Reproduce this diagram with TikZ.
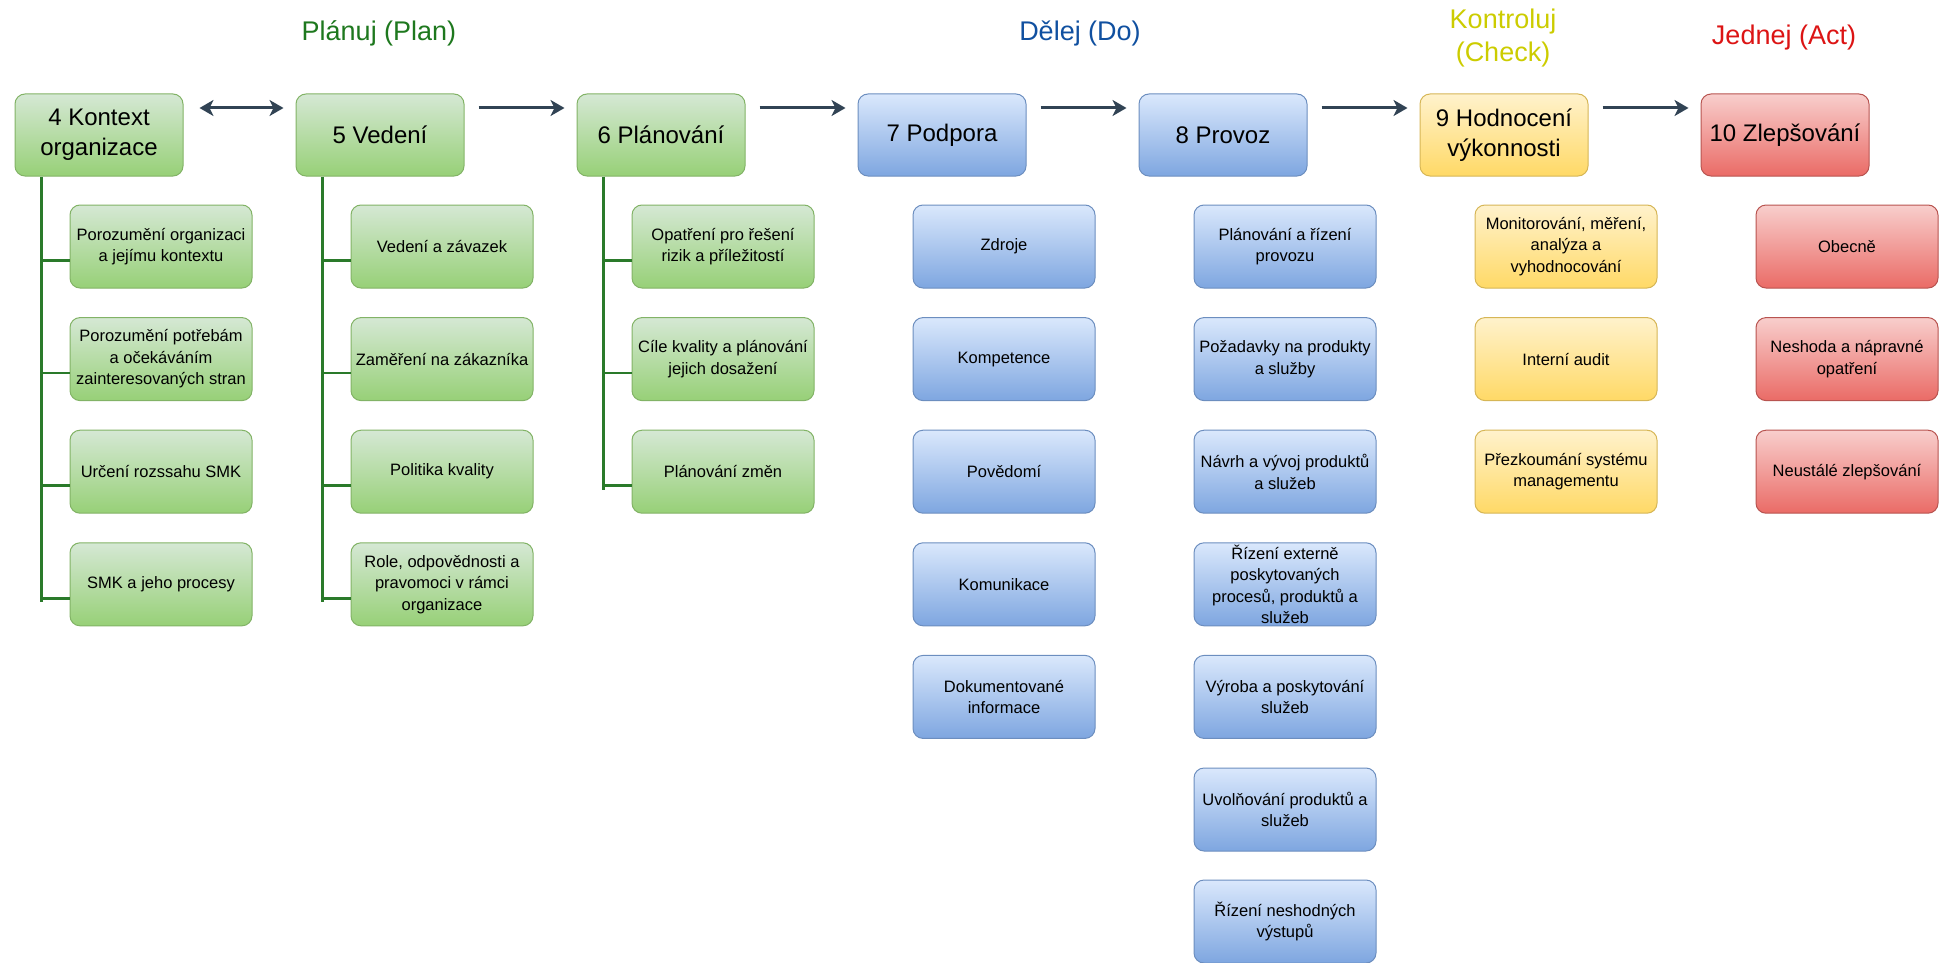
\documentclass[tikz,border=0pt]{standalone}
\usepackage{fontspec}
\setmainfont{Liberation Sans}
\usetikzlibrary{arrows.meta,calc}
\definecolor{gtop}{HTML}{D5E8D4}\definecolor{gbot}{HTML}{97D077}\definecolor{gdraw}{HTML}{82B366}
\definecolor{btop}{HTML}{DAE8FC}\definecolor{bbot}{HTML}{7EA6E0}\definecolor{bdraw}{HTML}{6C8EBF}
\definecolor{ytop}{HTML}{FFF2CC}\definecolor{ybot}{HTML}{FFD966}\definecolor{ydraw}{HTML}{D6B656}
\definecolor{rtop}{HTML}{F8CECC}\definecolor{rbot}{HTML}{EA6B66}\definecolor{rdraw}{HTML}{B85450}
\definecolor{arrc}{HTML}{314354}
\definecolor{treec}{HTML}{2A7A2A}
\definecolor{tplan}{RGB}{30,120,30}
\definecolor{tdo}{RGB}{16,80,160}
\definecolor{tcheck}{RGB}{204,204,0}
\definecolor{tact}{RGB}{220,20,20}
\tikzset{
  mainbox/.style={rounded corners=10pt, minimum width=168pt, minimum height=82pt, align=center, inner sep=2pt,
    font=\fontsize{24}{30}\selectfont, line width=1pt},
  subbox/.style={rounded corners=10pt, minimum width=182pt, minimum height=83pt, align=center, inner sep=1pt,
    font=\fontsize{16.5}{21.5}\selectfont, line width=1pt},
  green/.style={draw=gdraw, top color=gtop, bottom color=gbot},
  blue/.style={draw=bdraw, top color=btop, bottom color=bbot},
  yellow/.style={draw=ydraw, top color=ytop, bottom color=ybot},
  red/.style={draw=rdraw, top color=rtop, bottom color=rbot},
  arr/.style={draw=arrc, line width=3pt, -{Stealth[length=14pt,width=16pt,inset=4pt]}},
  darr/.style={draw=arrc, line width=3pt, {Stealth[length=14pt,width=16pt,inset=4pt]}-{Stealth[length=14pt,width=16pt,inset=4pt]}},
  tree/.style={draw=treec, line width=2.5pt},
  title/.style={align=center, font=\fontsize{27}{33}\selectfont}
}
\begin{document}
\begin{tikzpicture}[x=1pt,y=-1pt]
\useasboundingbox (0,0) rectangle (1940,963);
% titles
\node[title, text=tplan] (tp) at (379,33) {Plánuj (Plan)};
\node[title, text=tdo] (td) at (1080,33) {Dělej (Do)};
\node[title, text=tcheck] (tc) at (1503,38) {Kontroluj\\(Check)};
\node[title, text=tact] (ta) at (1784,38) {Jednej (Act)};
% main boxes
\node[mainbox, green] (m4) at (99,135) {4 Kontext\\organizace};
\node[mainbox, green] (m5) at (380,135) {5 Vedení};
\node[mainbox, green] (m6) at (661,135) {6 Plánování};
\node[mainbox, blue] (m7) at (942,135) {7 Podpora};
\node[mainbox, blue] (m8) at (1223,135) {8 Provoz};
\node[mainbox, yellow] (m9) at (1504,135) {9 Hodnocení\\výkonnosti};
\node[mainbox, red] (m10) at (1785,135) {10 Zlepšování};
% arrows
\draw[darr] ([xshift=16pt,yshift=27pt]m4.east) -- ([xshift=-12pt,yshift=27pt]m5.west);
\draw[arr] ([xshift=14pt,yshift=27pt]m5.east) -- ([xshift=-12pt,yshift=27pt]m6.west);
\draw[arr] ([xshift=14pt,yshift=27pt]m6.east) -- ([xshift=-12pt,yshift=27pt]m7.west);
\draw[arr] ([xshift=14pt,yshift=27pt]m7.east) -- ([xshift=-12pt,yshift=27pt]m8.west);
\draw[arr] ([xshift=14pt,yshift=27pt]m8.east) -- ([xshift=-12pt,yshift=27pt]m9.west);
\draw[arr] ([xshift=14pt,yshift=27pt]m9.east) -- ([xshift=-12pt,yshift=27pt]m10.west);
% column 4
\node[subbox, green] (s4a) at (161,246.5) {Porozumění organizaci\\a jejímu kontextu};
\node[subbox, green] (s4b) at (161,359.1) {Porozumění potřebám\\a očekáváním\\zainteresovaných stran};
\node[subbox, green] (s4c) at (161,471.7) {Určení rozssahu SMK};
\node[subbox, green] (s4d) at (161,584.3) {SMK a jeho procesy};
% column 5
\node[subbox, green] (s5a) at (442,246.5) {Vedení a závazek};
\node[subbox, green] (s5b) at (442,359.1) {Zaměření na zákazníka};
\node[subbox, green] (s5c) at (442,471.7) {Politika kvality};
\node[subbox, green] (s5d) at (442,584.3) {Role, odpovědnosti a\\pravomoci v rámci\\organizace};
% column 6
\node[subbox, green] (s6a) at (723,246.5) {Opatření pro řešení\\rizik a příležitostí};
\node[subbox, green] (s6b) at (723,359.1) {Cíle kvality a plánování\\jejich dosažení};
\node[subbox, green] (s6c) at (723,471.7) {Plánování změn};
% column 7
\node[subbox, blue] (s7a) at (1004,246.5) {Zdroje};
\node[subbox, blue] (s7b) at (1004,359.1) {Kompetence};
\node[subbox, blue] (s7c) at (1004,471.7) {Povědomí};
\node[subbox, blue] (s7d) at (1004,584.3) {Komunikace};
\node[subbox, blue] (s7e) at (1004,696.9) {Dokumentované\\informace};
% column 8
\node[subbox, blue] (s8a) at (1285,246.5) {Plánování a řízení\\provozu};
\node[subbox, blue] (s8b) at (1285,359.1) {Požadavky na produkty\\a služby};
\node[subbox, blue] (s8c) at (1285,471.7) {Návrh a vývoj produktů\\a služeb};
\node[subbox, blue] (s8d) at (1285,584.3) {Řízení externě\\poskytovaných\\procesů, produktů a\\služeb};
\node[subbox, blue] (s8e) at (1285,696.9) {Výroba a poskytování\\služeb};
\node[subbox, blue] (s8f) at (1285,809.5) {Uvolňování produktů a\\služeb};
\node[subbox, blue] (s8g) at (1285,921.5) {Řízení neshodných\\výstupů};
% column 9
\node[subbox, yellow] (s9a) at (1566,246.5) {Monitorování, měření,\\analýza a\\vyhodnocování};
\node[subbox, yellow] (s9b) at (1566,359.1) {Interní audit};
\node[subbox, yellow] (s9c) at (1566,471.7) {Přezkoumání systému\\managementu};
% column 10
\node[subbox, red] (s10a) at (1847,246.5) {Obecně};
\node[subbox, red] (s10b) at (1847,359.1) {Neshoda a nápravné\\opatření};
\node[subbox, red] (s10c) at (1847,471.7) {Neustálé zlepšování};
% tree connectors
\coordinate (r4) at ([xshift=27pt]m4.south west);
\coordinate (r5) at ([xshift=27pt]m5.south west);
\coordinate (r6) at ([xshift=27pt]m6.south west);
\foreach \n in {s4a,s4b,s4c,s4d,s5a,s5b,s5c,s5d,s6a,s6b,s6c}{
  \coordinate (b\n) at ([yshift=-14pt]\n.west);
}
\draw[tree] (r4) -- (r4 |- bs4d) -- ++(0,4);
\draw[tree] (r5) -- (r5 |- bs5d) -- ++(0,4);
\draw[tree] (r6) -- (r6 |- bs6c) -- ++(0,4);
\foreach \n in {s4a,s4b,s4c,s4d}{\draw[tree] (r4 |- b\n) -- (b\n);}
\foreach \n in {s5a,s5b,s5c,s5d}{\draw[tree] (r5 |- b\n) -- (b\n);}
\foreach \n in {s6a,s6b,s6c}{\draw[tree] (r6 |- b\n) -- (b\n);}
\end{tikzpicture}
\end{document}
